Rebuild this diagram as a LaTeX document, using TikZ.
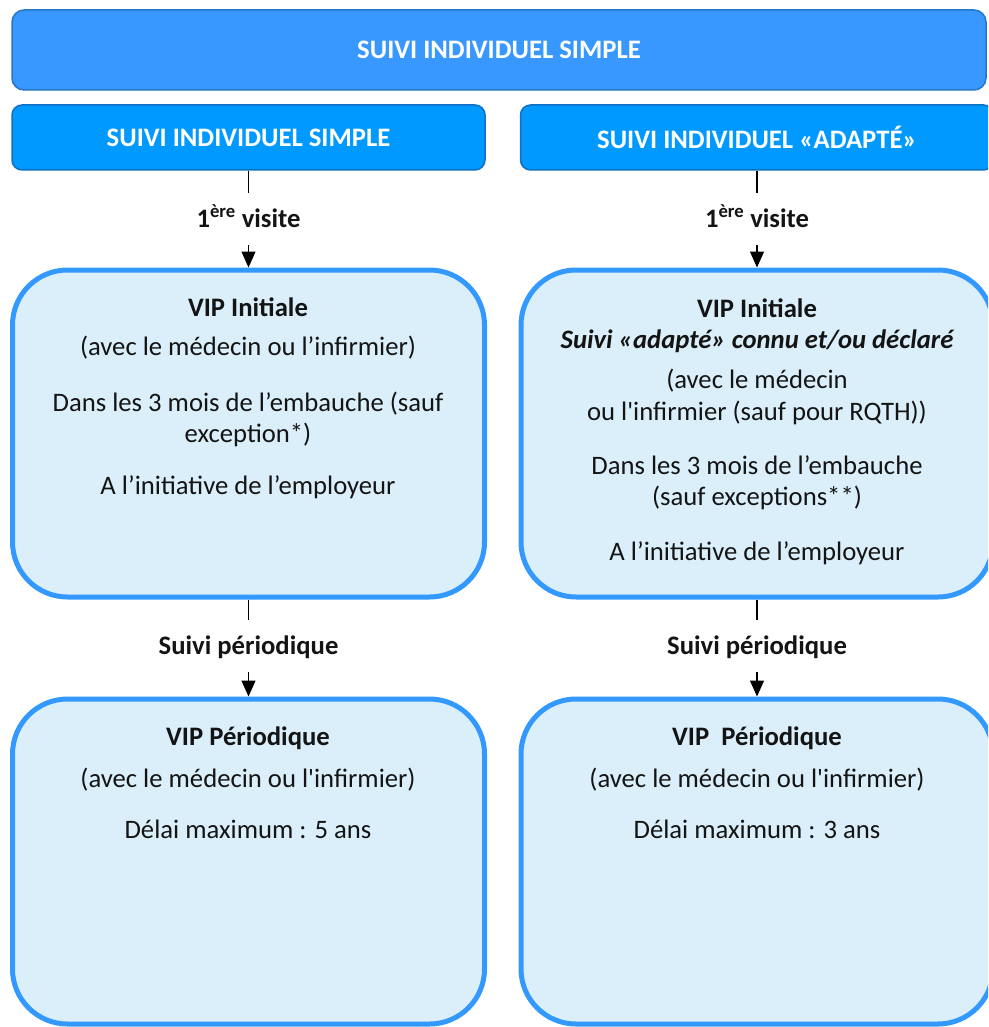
\documentclass[tikz,border=0pt]{standalone}
\usepackage{fontspec}
\newfontfamily\calib{Carlito}
\usetikzlibrary{arrows.meta}
\definecolor{bannerfill}{RGB}{56,152,255}
\definecolor{bannerline}{RGB}{36,118,200}
\definecolor{hdrfill}{RGB}{0,153,255}
\definecolor{hdrline}{RGB}{16,112,196}
\definecolor{boxline}{RGB}{51,153,255}
\definecolor{boxfill}{RGB}{218,239,250}
\definecolor{ink}{RGB}{20,20,20}
\begin{document}
\begin{tikzpicture}[x=1pt,y=-1pt,
  font=\calib\fontsize{26.67}{32}\selectfont,
  bannerbox/.style={draw=bannerline, fill=bannerfill, line width=1.5pt, rounded corners=12pt,
    text=white, font=\calib\bfseries\fontsize{26.67}{32}\selectfont, inner sep=0pt},
  hdrbox/.style={draw=hdrline, fill=hdrfill, line width=1.5pt, rounded corners=10pt,
    minimum width=473pt, minimum height=65pt,
    text=white, font=\calib\bfseries\fontsize{26.67}{32}\selectfont, inner sep=0pt},
  vipbox/.style={draw=boxline, fill=boxfill, line width=5pt, rounded corners=55pt,
    minimum width=472pt, inner sep=0pt},
  body/.style={inner sep=0pt, anchor=base, text=ink},
  title/.style={body, font=\calib\bfseries\fontsize{26.67}{32}\selectfont},
  lab/.style={anchor=base, inner xsep=0pt, inner ysep=15pt, text height=19pt, text depth=3pt,
    text=ink, font=\calib\bfseries\fontsize{26.67}{32}\selectfont},
  conn/.style={draw=black, line width=1.3pt},
  arr/.style={conn, -{Triangle[width=14pt,length=16pt]}}
]
\useasboundingbox (0,0) rectangle (988,1027);
\clip (0,0) rectangle (988,1027);

% banner
\node[bannerbox, minimum width=974pt, minimum height=80pt] (top) at (499,50) {SUIVI INDIVIDUEL SIMPLE};

% headers
\node[hdrbox] (hdrL) at (248.5,137.5) {SUIVI INDIVIDUEL SIMPLE};
\node[hdrbox] (hdrR) at (757,137.5) {SUIVI INDIVIDUEL «ADAPTÉ»};

% boxes
\node[vipbox, minimum height=327pt] (iniL) at (248.5,433.5) {};
\node[vipbox, minimum height=327pt] (iniR) at (757,433.5) {};
\node[vipbox, minimum height=325pt] (perL) at (248.5,861.5) {};
\node[vipbox, minimum height=325pt] (perR) at (757,861.5) {};

% connector labels
\node[lab] (visL) at (248.5,227) {1\textsuperscript{ère} visite};
\node[lab] (visR) at (757,227) {1\textsuperscript{ère} visite};
\node[lab] (suiL) at (248.5,654) {Suivi périodique};
\node[lab] (suiR) at (757,654) {Suivi périodique};

% connectors
\draw[conn] (hdrL.south) -- (visL.north);
\draw[arr] (visL.south) -- (iniL.north);
\draw[conn] (hdrR.south) -- (visR.north);
\draw[arr] (visR.south) -- (iniR.north);
\draw[conn] (iniL.south) -- (suiL.north);
\draw[arr] (suiL.south) -- (perL.north);
\draw[conn] (iniR.south) -- (suiR.north);
\draw[arr] (suiR.south) -- (perR.north);

% left initial box text
\node[title] (iL1) at (248,316) {VIP Initiale};
\node[body] (iL2) at (248,355) {(avec le médecin ou l’infirmier)};
\node[body] (iL3) at (248,411) {Dans les 3 mois de l’embauche (sauf};
\node[body] (iL4) at (248,442) {exception*)};
\node[body] (iL5) at (248,494) {A l’initiative de l’employeur};

% right initial box text
\node[title] (iR1) at (757,317) {VIP Initiale};
\node[title, font=\calib\bfseries\itshape\fontsize{26.67}{32}\selectfont] (iR2) at (757,348) {Suivi «adapté» connu et/ou déclaré};
\node[body] (iR3) at (757,388) {(avec le médecin};
\node[body] (iR4) at (757,420) {ou l'infirmier (sauf pour RQTH))};
\node[body] (iR5) at (757,474) {Dans les 3 mois de l’embauche};
\node[body] (iR6) at (757,505) {(sauf exceptions**)};
\node[body] (iR7) at (757,560) {A l’initiative de l’employeur};

% left periodic box text
\node[title] (pL1) at (248,745) {VIP Périodique};
\node[body] (pL2) at (248,787) {(avec le médecin ou l'infirmier)};
\node[body] (pL3) at (248,838) {Délai maximum : 5 ans};

% right periodic box text
\node[title] (pR1) at (757,745) {VIP\ \ Périodique};
\node[body] (pR2) at (757,787) {(avec le médecin ou l'infirmier)};
\node[body] (pR3) at (757,838) {Délai maximum : 3 ans};
\end{tikzpicture}
\end{document}
